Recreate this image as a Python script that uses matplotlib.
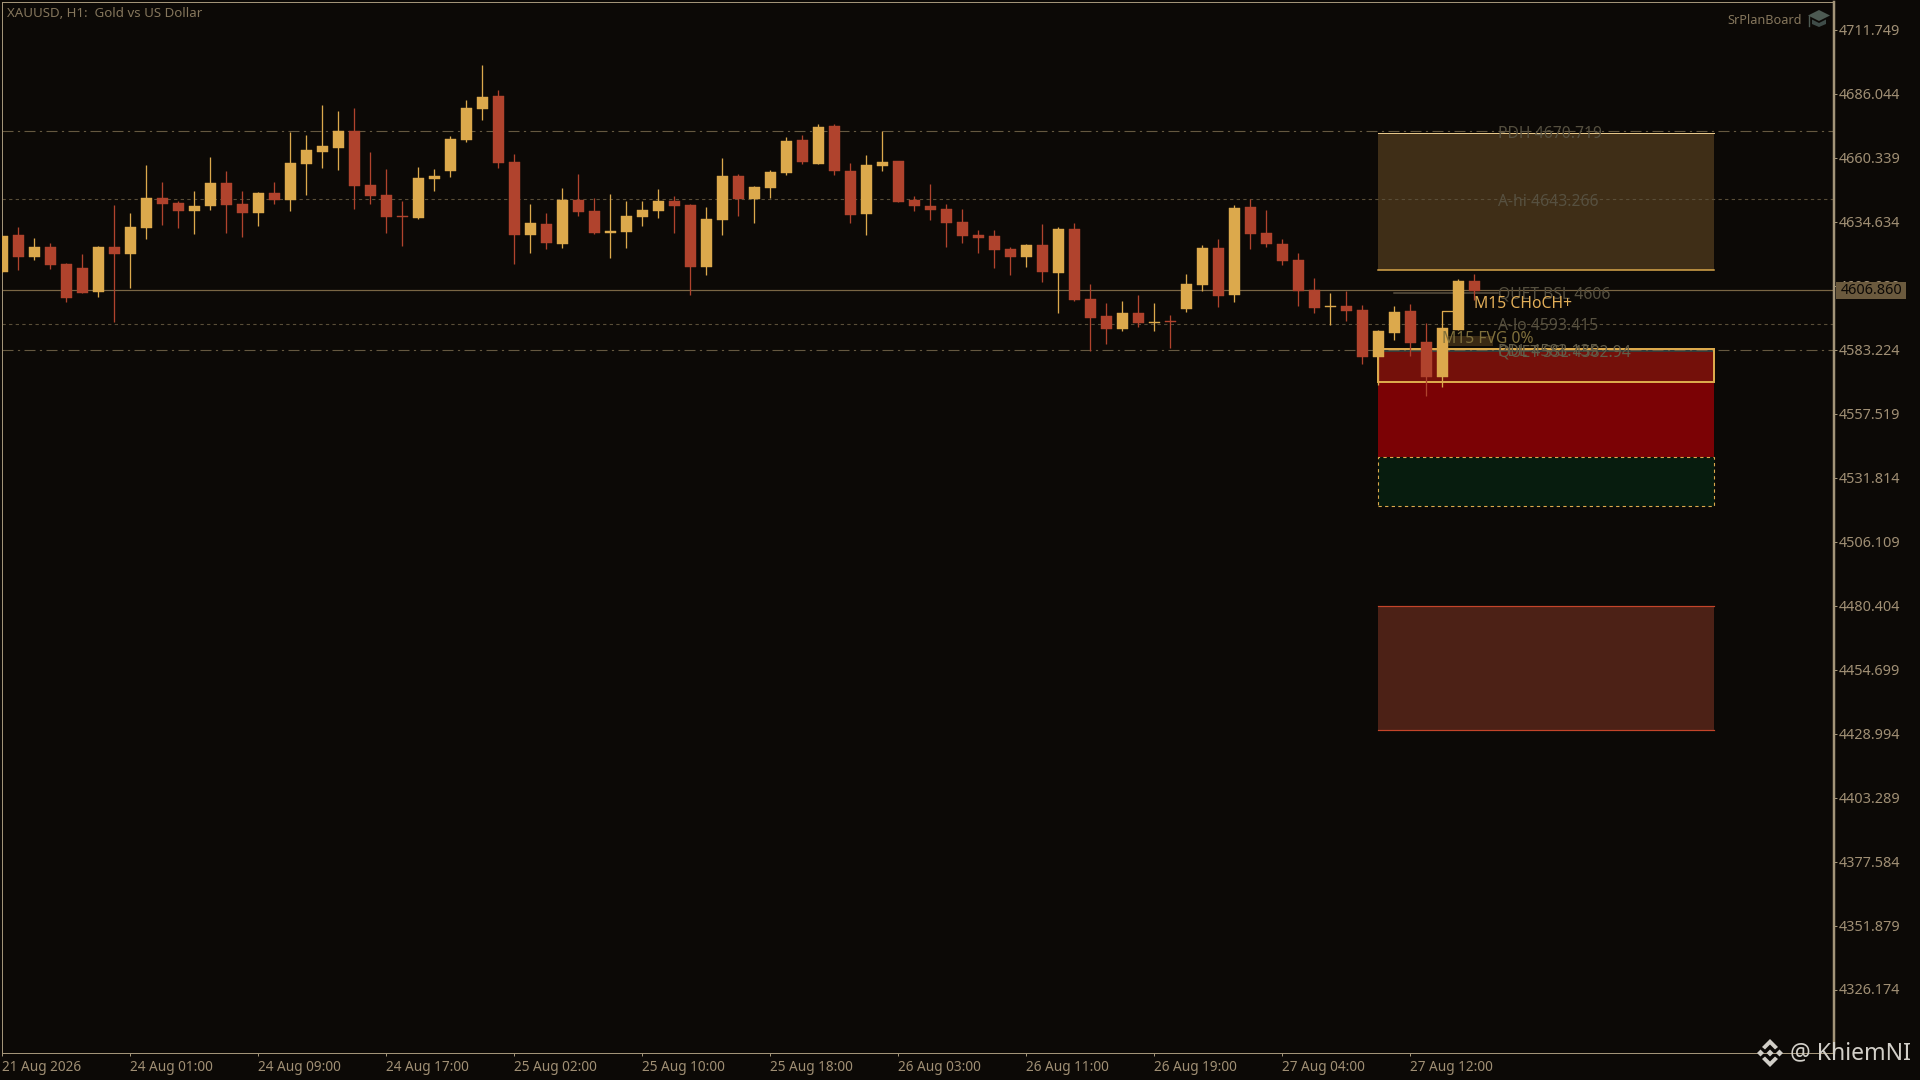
import matplotlib
matplotlib.use("Agg")
import matplotlib.pyplot as plt
from matplotlib.patches import Rectangle, Polygon
from matplotlib.transforms import ScaledTranslation

# --- Donnees (bougies H1) ---
opens = [4614.7, 4629.4, 4620.6, 4624.6, 4617.7, 4616.1, 4606.5, 4624.6, 4621.8, 4632.2,
         4644.3, 4642.2, 4639.0, 4641.0, 4650.3, 4641.8, 4638.2, 4646.3, 4643.5, 4657.9,
         4662.7, 4664.3, 4671.2, 4649.5, 4645.5, 4637.0, 4636.2, 4651.9, 4655.1, 4667.6,
         4680.0, 4685.2, 4658.7, 4629.4, 4633.8, 4625.8, 4643.5, 4639.0, 4630.2, 4630.6,
         4636.6, 4639.0, 4643.0, 4641.4, 4616.5, 4635.4, 4653.1, 4643.8, 4648.3, 4654.3,
         4667.5, 4657.9, 4673.2, 4655.1, 4637.8, 4657.1, 4659.1, 4643.4, 4641.0, 4639.8,
         4634.6, 4629.4, 4629.0, 4623.8, 4620.5, 4625.4, 4614.1, 4631.8, 4603.7, 4596.8,
         4591.6, 4598.1, 4594.0, 4594.8, 4599.7, 4609.3, 4624.2, 4605.3, 4640.6, 4630.2,
         4625.8, 4619.4, 4607.3, 4600.5, 4600.9, 4599.3, 4580.4, 4590.0, 4598.9, 4586.4,
         4572.4, 4591.3, 4610.9]
highs = [4629.0, 4632.6, 4628.2, 4626.2, 4618.1, 4621.8, 4625.0, 4641.4, 4638.2, 4657.5,
         4650.7, 4643.1, 4647.1, 4660.7, 4655.1, 4647.1, 4646.7, 4650.7, 4670.8, 4669.6,
         4681.6, 4679.2, 4680.4, 4662.7, 4655.9, 4643.1, 4656.7, 4655.9, 4669.2, 4683.6,
         4697.7, 4687.6, 4661.9, 4641.8, 4638.2, 4648.3, 4653.9, 4644.3, 4645.9, 4643.1,
         4643.0, 4647.9, 4645.0, 4641.8, 4640.6, 4660.3, 4653.9, 4649.1, 4655.5, 4668.7,
         4669.5, 4674.0, 4674.0, 4658.3, 4661.5, 4671.0, 4659.1, 4645.0, 4649.9, 4641.8,
         4639.8, 4631.4, 4631.4, 4624.6, 4625.8, 4633.8, 4632.6, 4634.2, 4609.7, 4602.1,
         4602.9, 4605.3, 4602.1, 4597.2, 4613.7, 4625.4, 4627.8, 4641.4, 4643.8, 4639.5,
         4627.8, 4622.2, 4612.1, 4606.1, 4606.9, 4601.3, 4591.3, 4600.9, 4601.7, 4594.1,
         4592.1, 4611.7, 4613.7]
lows = [4614.7, 4615.3, 4619.4, 4615.7, 4602.5, 4606.1, 4604.5, 4594.5, 4608.1, 4627.8,
        4633.4, 4632.2, 4629.8, 4639.4, 4630.2, 4628.6, 4633.0, 4641.8, 4639.0, 4645.5,
        4656.3, 4655.5, 4639.8, 4641.8, 4630.2, 4625.0, 4635.8, 4647.1, 4652.7, 4666.7,
        4675.6, 4656.3, 4617.7, 4622.2, 4623.8, 4624.2, 4637.0, 4629.8, 4620.2, 4624.2,
        4633.0, 4636.2, 4630.2, 4605.3, 4613.3, 4629.4, 4637.0, 4634.2, 4644.2, 4653.5,
        4657.9, 4657.9, 4653.5, 4634.2, 4629.4, 4655.1, 4642.6, 4639.0, 4635.4, 4624.6,
        4626.2, 4622.1, 4616.1, 4613.3, 4616.5, 4610.5, 4598.1, 4602.9, 4582.9, 4585.6,
        4590.8, 4592.4, 4590.8, 4584.0, 4598.5, 4606.9, 4600.5, 4602.5, 4623.8, 4624.6,
        4617.4, 4600.9, 4598.1, 4593.3, 4594.9, 4577.6, 4569.2, 4587.2, 4580.8, 4564.7,
        4568.4, 4591.3, 4603.3]
closes = [4629.0, 4620.6, 4624.6, 4617.3, 4604.1, 4606.1, 4624.6, 4621.8, 4632.6, 4644.3,
          4641.8, 4639.0, 4641.0, 4650.3, 4641.4, 4638.2, 4646.3, 4643.5, 4658.3, 4663.5,
          4665.1, 4671.2, 4649.1, 4645.1, 4636.6, 4636.6, 4652.3, 4653.1, 4668.0, 4680.4,
          4684.8, 4658.3, 4629.4, 4634.2, 4626.2, 4643.5, 4638.6, 4630.2, 4631.0, 4637.0,
          4639.4, 4643.0, 4641.0, 4616.5, 4635.8, 4653.1, 4643.8, 4648.7, 4654.7, 4667.1,
          4658.7, 4672.8, 4655.1, 4637.4, 4657.5, 4658.7, 4642.6, 4641.0, 4639.4, 4634.2,
          4629.0, 4628.2, 4623.4, 4620.5, 4625.4, 4614.5, 4631.8, 4603.3, 4596.0, 4591.6,
          4598.1, 4594.0, 4594.4, 4594.4, 4609.7, 4624.2, 4604.9, 4640.2, 4629.8, 4625.8,
          4619.0, 4606.9, 4600.1, 4600.9, 4598.9, 4580.4, 4590.9, 4598.5, 4586.0, 4572.4,
          4592.1, 4610.9, 4606.9]

price_ticks = [4711.749, 4686.044, 4660.339, 4634.634, 4608.929, 4583.224, 4557.519, 4531.814,
               4506.109, 4480.404, 4454.699, 4428.994, 4403.289, 4377.584, 4351.879, 4326.174]
time_ticks = [0, 8, 16, 24, 32, 40, 48, 56, 64, 72, 80, 88]
time_labels = ["21 Aug 2026", "24 Aug 01:00", "24 Aug 09:00", "24 Aug 17:00", "25 Aug 02:00",
               "25 Aug 10:00", "25 Aug 18:00", "26 Aug 03:00", "26 Aug 11:00", "26 Aug 19:00",
               "27 Aug 04:00", "27 Aug 12:00"]

# niveaux tels que dessines sur l'image
pdh = 4671.05
a_hi = 4643.8
last_price = 4607.15
a_lo = 4593.8
pdl = 4583.3

# --- Couleurs ---
BG = "#0c0906"
FRAME = "#a39478"
TXT = "#a08f74"
GOLD = "#dca94c"
RED = "#b0432d"
DIM = "#565040"

plt.rcParams["font.family"] = "Noto Sans"

fig = plt.figure(figsize=(19.2, 10.8), dpi=100, facecolor=BG)
ax = fig.add_axes([2 / 1920, 27 / 1080, 1832 / 1920, 1051 / 1080], facecolor=BG)
ax.set_xlim(-0.025, 114.475)
ax.set_ylim(4300.87, 4723.0)

px = 0.72  # 1 pixel en points

# --- Zones ---
z0, z1 = 86, 107
ax.add_patch(Rectangle((z0, 4615.2), z1 - z0, 4670.3 - 4615.2, fc="#3f2e17", ec="none", zorder=1))
ax.plot([z0, z1], [4615.2, 4615.2], color=GOLD, lw=1.5 * px, zorder=1.5)
ax.plot([z0, z1], [4670.3, 4670.3], color="#e8c88a", lw=1 * px, zorder=1.5)
ax.add_patch(Rectangle((z0, 4540.1), z1 - z0, 4583.6 - 4540.1, fc="#7b0205", ec="none", zorder=1))
ax.add_patch(Rectangle((z0, 4570.4), z1 - z0, 4583.6 - 4570.4, fc="#74100a", ec="none", zorder=1.1))
ax.plot([z0, z1], [4582.7, 4582.7], color="#1f4a4a", lw=1.5 * px, zorder=1.2)
ax.add_patch(Rectangle((z0, 4520.4), z1 - z0, 4540.3 - 4520.4, fc="#071c0e", ec=GOLD,
                       lw=1.1 * px, ls=(0, (3, 3)), zorder=1.1))
ax.add_patch(Rectangle((z0, 4430.5), z1 - z0, 4480.3 - 4430.5, fc="#4c2116", ec="none", zorder=1))
ax.plot([z0, z1], [4480.3, 4480.3], color="#c4452a", lw=1.2 * px, zorder=1.5)
ax.plot([z0, z1], [4430.5, 4430.5], color="#c4452a", lw=1.2 * px, zorder=1.5)

# --- Niveaux horizontaux ---
ax.axhline(pdh, color="#655840", lw=1.1 * px, ls=(0, (10, 4, 2, 4)), zorder=2)
ax.axhline(a_hi, color="#5a4e38", lw=1.1 * px, ls=(0, (3, 3)), zorder=2)
ax.axhline(last_price, color="#7a6644", lw=1.2 * px, zorder=2)
ax.axhline(a_lo, color="#5a4e38", lw=1.1 * px, ls=(0, (3, 3)), zorder=2)
ax.axhline(pdl, color="#655840", lw=1.1 * px, ls=(0, (10, 4, 2, 4)), zorder=2)
ax.plot([87, 93.5], [4606.2, 4606.2], color="#5c5342", lw=1.5 * px, zorder=2)

# --- Bougies ---
for i in range(len(opens)):
    col = GOLD if closes[i] >= opens[i] else RED
    ax.vlines(i, lows[i], highs[i], color=col, lw=1.3 * px, zorder=4)
    bas = min(opens[i], closes[i])
    haut = max(opens[i], closes[i])
    ax.bar(i, haut - bas, bottom=bas, width=0.6875, color=col, edgecolor=col, linewidth=0.3, zorder=4)

# rectangle or autour de la zone
ax.add_patch(Rectangle((z0, 4570.4), z1 - z0, 4583.6 - 4570.4, fc="none", ec=GOLD, lw=2 * px, zorder=3.5))
ax.plot([90, 90, 90.7], [4592.1, 4598.75, 4598.75], color=GOLD, lw=1.3 * px, zorder=3.8)
ax.add_patch(Rectangle((90.35, 4584.8), 2.8, 4.05, fc="#3a2a14", ec="none", zorder=3))

# --- Etiquettes des niveaux ---
lx = 93.5
fs = 11.3
ax.text(lx, 4669.9, "PDH 4670.719", color=DIM, fontsize=fs, va="center", zorder=5)
ax.text(lx, 4642.8, "A-hi 4643.266", color=DIM, fontsize=fs, va="center", zorder=5)
ax.text(lx, 4605.4, "QUET BSL 4606", color=DIM, fontsize=fs, va="center", zorder=5)
ax.text(lx, 4592.9, "A-lo 4593.415", color=DIM, fontsize=fs, va="center", zorder=5)
ax.text(lx, 4582.3, "QUET SSL 4582.94", color="#625c48", fontsize=fs, va="center", zorder=5)
ax.text(lx, 4582.3, "PDL 4583.135", color="#625c48", fontsize=fs, va="center", zorder=5)
ax.text(92, 4601.8, "M15 CHoCH+", color="#e2ae58", fontsize=fs, va="center", zorder=6)
ax.text(90, 4587.8, "M15 FVG 0%", color="#80703c", fontsize=fs, va="center", zorder=6)

# --- Axes ---
for s in ax.spines.values():
    s.set_color(FRAME)
    s.set_linewidth(1 * px)
ax.spines["right"].set_linewidth(2.5 * px)
ax.yaxis.tick_right()
ax.set_yticks(price_ticks)
ax.set_yticklabels(["%.3f" % p for p in price_ticks])
ax.set_xticks(time_ticks)
ax.set_xticklabels(time_labels, ha="left")
ax.tick_params(axis="y", length=3 * px, width=1 * px, color=FRAME, labelcolor=TXT, labelsize=10.4, pad=1.5)
ax.tick_params(axis="x", length=3 * px, width=1 * px, color=FRAME, labelcolor=TXT, labelsize=9.8, pad=3)
# les prix sont un peu plus hauts que les graduations
decal = ScaledTranslation(0, 1 / 100, fig.dpi_scale_trans)
for lab in ax.get_yticklabels():
    lab.set_transform(lab.get_transform() + decal)

ax.text(0.0025, 0.989, "XAUUSD, H1:  Gold vs US Dollar", transform=ax.transAxes, color="#85765c",
        fontsize=9.55, va="center", ha="left")

# --- Surcouche en pixels : etiquette du prix, icone et filigrane ---
ov = fig.add_axes([0, 0, 1, 1], facecolor="none")
ov.set_xlim(0, 1920)
ov.set_ylim(1080, 0)
ov.axis("off")

ov.add_patch(Rectangle((1836, 282), 70, 17, fc="#6b5a3e", ec="none"))
ov.text(1841, 290, "4606.860", color=BG, fontsize=10.4, ha="left", va="center")

ov.text(1802, 20, "SrPlanBoard", color="#85765c", fontsize=9.1, ha="right", va="center")
ov.add_patch(Polygon([[1808, 15.5], [1819, 10], [1830, 15.5], [1819, 21]], fc="#4d5a52", ec="none"))
ov.add_patch(Polygon([[1812, 19.5], [1819, 23], [1826, 19.5], [1826, 24], [1819, 27], [1812, 24]], fc="#3f4c48", ec="none"))
ov.plot([1809, 1809], [16, 26], color="#4d5a52", lw=1)

logo = "#d2cfc8"
cx, cy = 1770, 1053
ov.add_patch(Polygon([[cx, cy - 3.5], [cx + 3.5, cy], [cx, cy + 3.5], [cx - 3.5, cy]], fc=logo, ec="none"))
ov.add_patch(Polygon([[cx - 13, cy], [cx - 9.5, cy - 3.5], [cx - 6, cy], [cx - 9.5, cy + 3.5]], fc=logo, ec="none"))
ov.add_patch(Polygon([[cx + 13, cy], [cx + 9.5, cy - 3.5], [cx + 6, cy], [cx + 9.5, cy + 3.5]], fc=logo, ec="none"))
ov.add_patch(Polygon([[cx, cy - 14], [cx + 8, cy - 6], [cx + 5, cy - 3.5], [cx, cy - 8.5], [cx - 5, cy - 3.5], [cx - 8, cy - 6]],
                     fc=logo, ec="none"))
ov.add_patch(Polygon([[cx, cy + 14], [cx + 8, cy + 6], [cx + 5, cy + 3.5], [cx, cy + 8.5], [cx - 5, cy + 3.5], [cx - 8, cy + 6]],
                     fc=logo, ec="none"))
ov.text(1790, 1053, "@ KhiemNI", color=logo, fontsize=16.6, ha="left", va="center")

fig.savefig("out.png", dpi=100, facecolor=BG)
plt.close(fig)
